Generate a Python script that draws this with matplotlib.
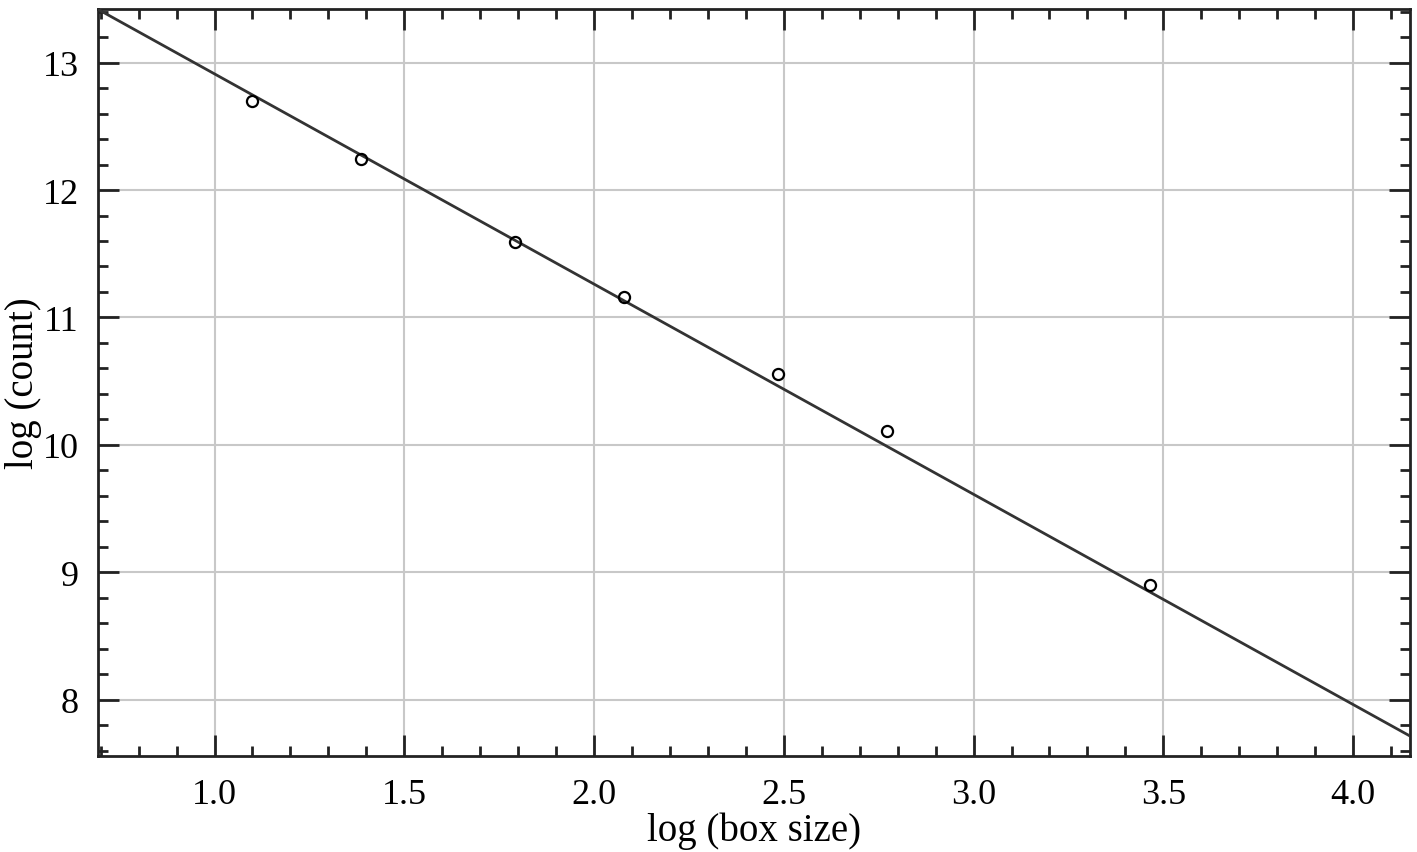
import numpy as np
import matplotlib.pyplot as plt
from matplotlib.ticker import MultipleLocator

# puntos medidos (log del tamaño de caja vs log del conteo)
log_box = [1.099, 1.386, 1.792, 2.079, 2.485, 2.773, 3.466]
log_count = [12.70, 12.24, 11.595, 11.163, 10.56, 10.11, 8.90]

# recta de ajuste
pendiente = -1.649
ordenada = 14.56

X_MIN, X_MAX = 0.693, 4.15
Y_MIN, Y_MAX = 7.56, 13.42

plt.rcParams["font.family"] = ["Liberation Serif", "DejaVu Serif"]

fig = plt.figure(figsize=(14.17, 8.53), dpi=100)
ax = fig.add_axes([98 / 1417, 1 - 757 / 853, (1410 - 98) / 1417, (757 - 10) / 853])

xs = np.array([X_MIN, X_MAX])
ax.plot(xs, ordenada + pendiente * xs, color="#333333", lw=2.0, zorder=3)
ax.plot(log_box, log_count, "o", ms=8, mfc="none", mec="black", mew=1.6, zorder=4)

ax.set_xlim(X_MIN, X_MAX)
ax.set_ylim(Y_MIN, Y_MAX)

ax.xaxis.set_major_locator(MultipleLocator(0.5))
ax.xaxis.set_minor_locator(MultipleLocator(0.1))
ax.yaxis.set_major_locator(MultipleLocator(1))
ax.yaxis.set_minor_locator(MultipleLocator(0.2))
ax.xaxis.set_major_formatter(lambda v, p: f"{v:.1f}")
ax.yaxis.set_major_formatter(lambda v, p: f"{v:.0f}")

ax.tick_params(which="both", direction="in", top=True, right=True,
               width=2, color="#222222", labelsize=26)
ax.tick_params(axis="x", which="major", length=15, pad=16)
ax.tick_params(axis="y", which="major", length=15, pad=14)
ax.tick_params(which="minor", length=7)

ax.grid(which="major", color="#c8c8c8", lw=1.5)
ax.set_axisbelow(True)
for s in ax.spines.values():
    s.set_linewidth(2)
    s.set_color("#222222")

ax.set_xlabel("log (box size)", fontsize=28, labelpad=0)
ax.set_ylabel("log (count)", fontsize=28, labelpad=0)

fig.savefig("out.png", dpi=100, facecolor="white")
